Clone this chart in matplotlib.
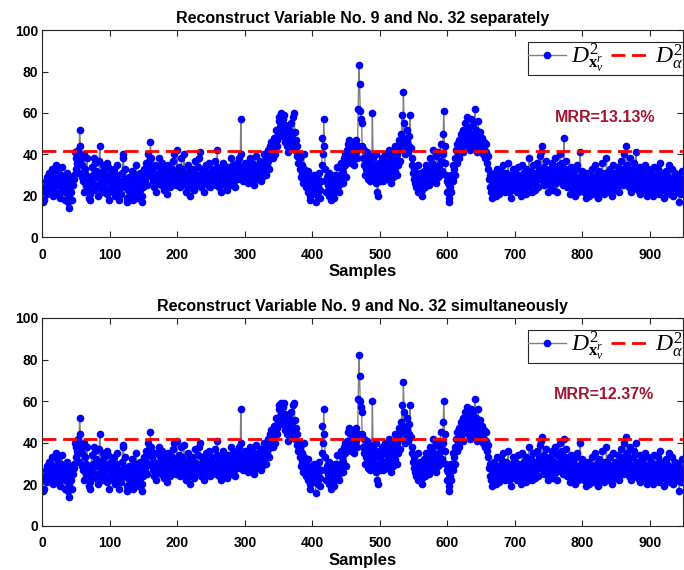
import matplotlib.pyplot as plt
import numpy as np

plt.rcParams['font.family'] = ['Liberation Sans', 'DejaVu Sans']
plt.rcParams['mathtext.fontset'] = 'custom'
plt.rcParams['mathtext.rm'] = 'Liberation Serif'
plt.rcParams['mathtext.it'] = 'Liberation Serif:italic'
plt.rcParams['mathtext.bf'] = 'Liberation Serif:bold'

# D^2 statistic of the reconstructed samples (index 1..950)
separately = [
    17,18,24,22,27,29,21,25,31,26,23,30,28,33,24,20,27,22,26,35,32,29,25,21,27,19,24,30,34,28,23,26,18,22,25,29,31,17,14,20,24,27,22,18,25,30,28,41,38,33,
    36,42,40,31,52,44,38,29,35,27,22,40,33,25,30,38,27,24,19,18,21,28,34,26,30,23,38,36,25,32,29,20,24,37,44,31,26,22,35,28,33,24,30,27,21,36,34,28,18,23,
    27,31,25,22,29,33,24,20,28,35,30,26,22,18,24,27,21,31,38,40,28,24,33,27,19,17,23,29,25,20,26,32,22,18,21,27,30,24,35,28,22,19,25,31,23,26,20,17,24,29,
    33,28,36,31,25,40,30,37,34,46,38,29,33,27,24,31,35,28,22,30,26,34,38,29,25,32,36,27,30,23,28,33,25,21,29,35,31,27,24,30,26,33,37,28,40,32,29,25,42,31,
    27,34,30,24,28,38,33,26,31,40,29,25,22,30,35,27,32,24,20,28,33,29,26,23,31,37,28,25,30,34,27,38,41,30,24,27,33,29,22,26,32,28,35,30,25,29,36,27,24,31,
    28,33,26,30,37,29,25,34,42,31,27,24,30,22,26,33,28,36,29,25,31,27,23,29,34,30,26,32,38,28,25,30,35,27,31,24,29,36,33,28,30,38,34,57,40,31,27,33,29,36,
    32,28,35,30,26,33,38,29,31,36,27,34,30,25,32,39,29,33,28,35,31,37,30,27,34,29,36,32,40,33,30,38,35,42,37,33,44,39,46,41,38,43,48,45,40,52,47,44,50,56,
    58,53,60,55,49,57,52,59,46,54,50,44,48,41,52,45,47,43,55,50,46,58,60,51,42,47,39,44,36,40,33,38,29,35,31,26,40,33,28,30,24,27,22,32,26,20,18,25,29,23,
    26,21,30,24,17,22,28,20,25,31,23,19,27,35,48,40,57,44,33,27,22,29,25,20,31,26,23,18,24,28,21,19,26,30,23,27,34,29,25,22,30,36,28,33,26,31,38,35,40,29,
    42,37,45,39,47,41,36,44,38,46,40,35,43,47,41,38,44,62,83,74,61,57,55,44,38,42,35,30,37,33,41,28,36,32,39,27,34,31,60,38,29,35,33,26,40,22,20,30,36,27,
    33,29,38,35,27,31,40,36,30,34,28,37,42,33,39,31,26,35,41,29,36,32,44,38,30,40,35,47,42,37,45,50,59,48,70,55,44,40,47,52,46,41,49,44,59,43,38,35,31,28,
    33,26,30,24,28,35,22,27,31,25,29,23,20,26,32,28,24,35,30,27,33,29,25,38,31,27,36,30,42,34,28,32,26,39,33,29,41,35,30,45,37,32,40,50,61,44,36,30,27,22,
    26,19,17,24,30,22,28,35,27,33,38,30,42,36,45,40,47,38,44,50,43,48,41,52,46,55,49,45,58,51,44,53,47,42,57,50,46,54,48,43,62,52,45,41,49,56,47,43,51,45,
    44,48,40,46,42,38,45,41,36,39,33,28,24,30,22,27,19,25,31,23,28,20,26,33,24,29,21,27,32,25,30,23,35,28,22,26,31,24,29,36,27,22,30,25,19,28,33,26,23,29,
    31,25,28,22,34,27,30,24,20,29,35,26,23,31,28,21,33,27,24,30,38,29,25,32,22,28,35,30,26,23,31,27,36,29,24,33,39,30,41,44,32,27,34,25,29,37,31,26,22,30,
    28,33,25,30,36,27,23,31,38,29,26,34,22,30,35,27,40,32,28,36,31,25,48,33,29,37,27,24,32,26,30,21,28,34,25,23,31,27,20,29,33,26,35,22,28,24,41,30,26,32,
    27,22,29,24,19,26,31,23,28,20,25,30,22,27,33,24,21,28,35,26,23,30,19,25,32,27,22,29,24,36,28,21,26,31,23,38,27,24,30,22,33,26,29,20,35,28,25,31,23,27,
    30,24,34,28,22,31,26,37,29,33,25,40,31,27,44,35,28,32,24,30,38,26,22,29,33,27,36,30,24,41,28,23,31,26,34,21,29,25,32,27,23,30,35,24,28,20,26,33,22,29,
    25,31,23,28,20,27,34,24,30,22,26,33,25,21,29,36,27,23,31,24,28,19,26,32,22,30,25,35,27,21,28,24,33,26,20,29,23,31,25,27,22,30,24,17,28,21,26,32,23,27,
]

simultaneously = [
    17,18,24,22,27,29,21,25,31,26,23,30,28,33,24,20,27,22,26,35,32,29,25,21,27,19,24,30,34,28,23,26,18,22,25,29,31,17,14,20,24,27,22,18,25,30,28,40,38,33,
    36,42,40,31,52,44,38,29,35,27,22,40,33,25,30,38,27,24,19,18,21,28,34,26,30,23,38,36,25,32,29,20,24,37,44,31,26,22,35,28,33,24,30,27,21,36,34,28,18,23,
    27,31,25,22,29,33,24,20,28,35,30,26,22,18,24,27,21,31,38,39,28,24,33,27,19,17,23,29,25,20,26,32,22,18,21,27,30,24,35,28,22,19,25,31,23,26,20,17,24,29,
    33,28,36,31,25,40,30,37,34,45,38,29,33,27,24,31,35,28,22,30,26,34,38,29,25,32,36,27,30,23,28,33,25,21,29,35,31,27,24,30,26,33,37,28,40,32,29,25,41,31,
    27,34,30,24,28,38,33,26,31,39,29,25,22,30,35,27,32,24,20,28,33,29,26,23,31,37,28,25,30,34,27,38,40,30,24,27,33,29,22,26,32,28,35,30,25,29,36,27,24,31,
    28,33,26,30,37,29,25,34,41,31,27,24,30,22,26,33,28,36,29,25,31,27,23,29,34,30,26,32,38,28,25,30,35,27,31,24,29,36,33,28,30,38,34,56,40,31,27,33,29,36,
    32,28,35,30,26,33,38,29,31,36,27,34,30,25,32,39,29,33,28,35,31,37,30,27,34,29,36,32,40,33,30,38,35,42,37,33,44,39,46,41,38,43,48,45,40,52,47,44,50,56,
    58,53,59,55,49,57,52,59,46,54,50,44,48,41,52,45,47,43,55,50,46,58,59,51,42,47,39,44,36,40,33,38,29,35,31,26,40,33,28,30,24,27,22,32,26,20,18,25,29,23,
    26,21,30,24,16,22,28,20,25,31,23,19,27,35,48,40,56,44,33,27,22,29,25,20,31,26,23,18,24,28,21,19,26,30,23,27,34,29,25,22,30,36,28,33,26,31,38,35,40,29,
    41,37,45,39,47,41,36,44,38,46,40,35,43,47,41,38,44,61,82,72,60,57,55,44,38,42,35,30,37,33,41,28,36,32,39,27,34,31,60,38,29,35,33,26,40,22,20,30,36,27,
    33,29,38,35,27,31,40,36,30,34,28,37,42,33,39,31,26,35,41,29,36,32,44,38,30,40,35,47,42,37,45,50,58,48,69,55,44,40,47,52,46,41,49,44,58,43,38,35,31,28,
    33,26,30,24,28,35,22,27,31,25,29,23,20,26,32,28,24,35,30,27,33,29,25,38,31,27,36,30,42,34,28,32,26,39,33,29,41,35,30,45,37,32,40,50,60,44,36,30,27,22,
    26,19,17,24,30,22,28,35,27,33,38,30,42,36,45,40,47,38,44,50,43,48,41,52,46,55,49,45,57,51,44,53,47,42,56,50,46,54,48,43,61,52,45,41,49,56,47,43,51,45,
    44,48,40,46,42,38,45,41,36,39,33,28,24,30,22,27,19,25,31,23,28,20,26,33,24,29,21,27,32,25,30,23,35,28,22,26,31,24,29,36,27,22,30,25,19,28,33,26,23,29,
    31,25,28,22,34,27,30,24,20,29,35,26,23,31,28,21,33,27,24,30,38,29,25,32,22,28,35,30,26,23,31,27,36,29,24,33,39,30,41,43,32,27,34,25,29,37,31,26,22,30,
    28,33,25,30,36,27,23,31,38,29,26,34,22,30,35,27,40,32,28,36,31,25,42,33,29,37,27,24,32,26,30,21,28,34,25,23,31,27,20,29,33,26,35,22,28,24,40,30,26,32,
    27,22,29,24,19,26,31,23,28,20,25,30,22,27,33,24,21,28,35,26,23,30,19,25,32,27,22,29,24,36,28,21,26,31,23,38,27,24,30,22,33,26,29,20,35,28,25,31,23,27,
    30,24,34,28,22,31,26,37,29,33,25,40,31,27,43,35,28,32,24,30,38,26,22,29,33,27,36,30,24,40,28,23,31,26,34,21,29,25,32,27,23,30,35,24,28,20,26,33,22,29,
    25,31,23,28,20,27,34,24,30,22,26,33,25,21,29,36,27,23,31,24,28,19,26,32,22,30,25,35,27,21,28,24,33,26,20,29,23,31,25,27,22,30,24,17,28,21,26,32,23,27,
]

control_limit = 41.6
titles = ['Reconstruct Variable No. 9 and No. 32 separately',
          'Reconstruct Variable No. 9 and No. 32 simultaneously']
mrr_labels = ['MRR=13.13%', 'MRR=12.37%']
mrr_xy = [(834, 58), (832, 63)]
xticks = list(range(0, 901, 100))
yticks = list(range(0, 101, 20))

samples = np.arange(1, len(separately) + 1)

fig = plt.figure(figsize=(6.84, 5.7), dpi=100)
rects = [[0.0621, 0.584, 0.937, 0.363], [0.0621, 0.0772, 0.937, 0.365]]

for rect, d, title, mrr, xy in zip(rects, [separately, simultaneously], titles, mrr_labels, mrr_xy):
    ax = fig.add_axes(rect)
    ax.plot(samples, d, '-', color='0.5', lw=1, marker='o', ms=4.5,
            mfc='blue', mec='blue', label=r'$D^2_{\mathbf{x}_v^r}$')
    ax.axhline(control_limit, color='red', ls='--', lw=2, dashes=(5, 2.4),
               label=r'$D^2_{\alpha}$')
    ax.set_xlim(0, 950)
    ax.set_ylim(0, 100)
    ax.set_xticks(xticks)
    ax.set_yticks(yticks)
    ax.tick_params(direction='in', top=True, right=True, labelsize=10, length=4,
                   color='0.15', width=0.8)
    ax.tick_params(axis='x', pad=7.5)
    ax.tick_params(axis='y', pad=3)
    for lbl in ax.get_xticklabels() + ax.get_yticklabels():
        lbl.set_fontweight('bold')
    for s in ax.spines.values():
        s.set_color('0.15')
        s.set_linewidth(0.8)
    ax.set_title(title, fontsize=11.5, fontweight='bold', pad=5)
    ax.set_xlabel('Samples', fontsize=12, fontweight='bold', labelpad=2)
    ax.text(xy[0], xy[1], mrr, color=(0.635, 0.078, 0.184), fontsize=11.5,
            fontweight='bold', ha='center', va='center')
    leg = ax.legend(loc='upper right', bbox_to_anchor=(1.0, 0.942), ncol=2,
                    fontsize=17, fancybox=False,
                    framealpha=1, edgecolor='0.15', borderaxespad=0,
                    handlelength=1.6, columnspacing=0.3, handletextpad=0.25,
                    borderpad=0.0)
    leg.get_frame().set_linewidth(0.8)

fig.savefig('out.png', dpi=100)
